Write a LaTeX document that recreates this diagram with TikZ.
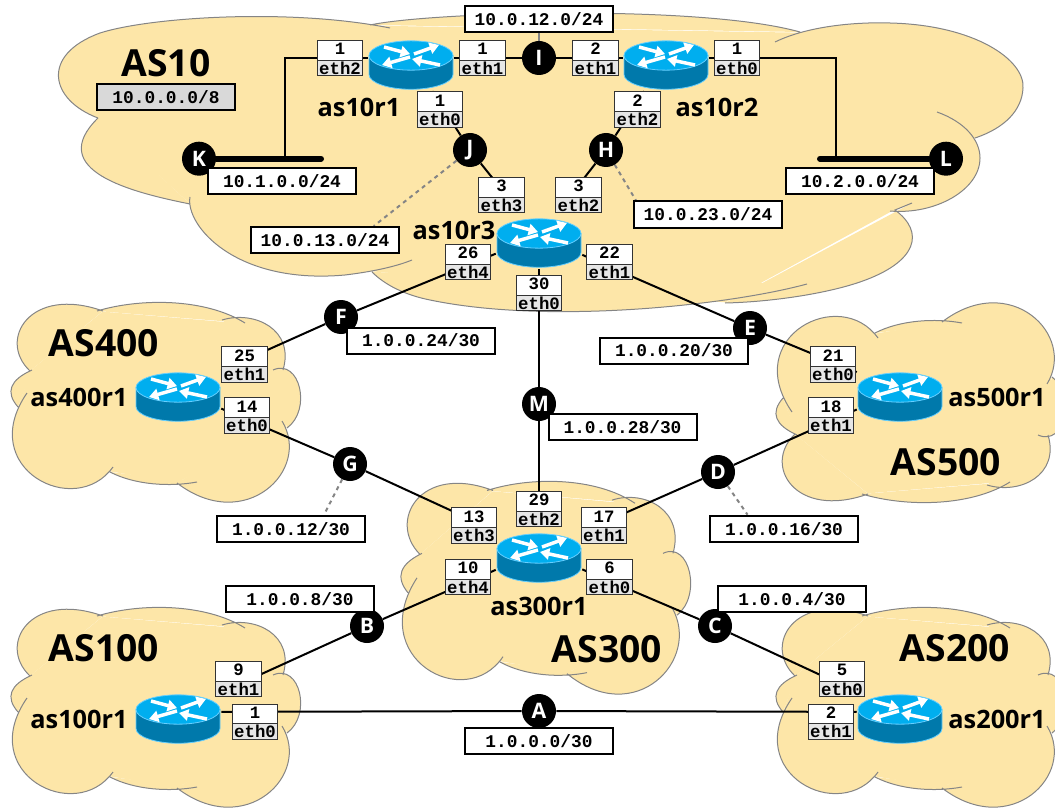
\documentclass[tikz,border=0pt]{standalone}
\usepackage{fontspec}
\setsansfont{Open Sans}
\setmonofont{Liberation Mono}
\usetikzlibrary{arrows.meta, shapes.multipart}
\definecolor{cloudsand}{HTML}{FDE6A8}
\definecolor{cloudline}{HTML}{858585}
\definecolor{routertop}{HTML}{00AEEF}
\definecolor{routerside}{HTML}{0079AB}
\definecolor{routerrim}{HTML}{66CFFF}
\definecolor{portgrey}{HTML}{E6E6E6}
\definecolor{portline}{HTML}{333333}
\pgfdeclarelayer{clouds}
\pgfdeclarelayer{links}
\pgfsetlayers{clouds,links,main}

\tikzset{
	cloudbody/.style={fill=cloudsand, draw=cloudline, line width=0.75pt},
	cloudcore/.style={fill=cloudsand, draw=cloudsand, line width=2pt, line join=round},
	routerarrow/.style={draw=white, line width=2.6pt, -{Triangle[length=7pt, width=8.5pt, fill=white]}},
	smallcloud/.pic={
		\path[cloudcore] (32,371) -- (103,313) -- (245,325) -- (281,370) -- (285,428) -- (177,481) -- (110,470) -- (20,406) -- cycle;
		\path[cloudbody]
			(30,371) .. controls (-3,340) and (30,285) .. (103,311)
			(97,311) .. controls (140,298) and (205,298) .. (245,323)
			(222,320) .. controls (255,310) and (295,330) .. (283,370)
			(273,370) .. controls (300,358) and (312,410) .. (287,428)
			(282,421) .. controls (312,470) and (245,535) .. (177,483)
			(197,482) .. controls (170,487) and (135,485) .. (110,472)
			(113,467) .. controls (75,520) and (-25,468) .. (27,393)
			(18,407) .. controls (5,392) and (10,380) .. (32,370);
	}
}

\begin{document}
\begin{tikzpicture}[x=0.75pt, y=-0.75pt,
	router/.style={rectangle, inner sep=0pt, minimum width=64.5pt, minimum height=49.5pt,
		path picture={
			\filldraw[fill=routerside, draw=routerrim, line width=0.6pt] (-42,-2.5) -- (-42,16.6) .. controls (-42,24.6) and (-23,31.3) .. (0,31.3)
				.. controls (23,31.3) and (42,24.6) .. (42,16.6) -- (42,-2.5) -- cycle;
			\filldraw[fill=routertop, draw=routerrim, line width=0.6pt] (0,-2.5) circle[x radius=31.5pt, y radius=11pt];
			\draw[routerarrow] (-27,-11) -- (-1,-4);
			\draw[routerarrow] (3,-4) -- (28,-13);
			\draw[routerarrow] (-1,-1) -- (-29,7);
			\draw[routerarrow] (29,7) -- (1,1);
		}},
	port/.style={rectangle split, rectangle split parts=2, draw=portline, line width=0.75pt,
		rectangle split part fill={white,portgrey}, minimum width=34pt, inner xsep=0pt, inner ysep=0.7pt,
		text height=9.6pt, text depth=3pt, font=\ttfamily\bfseries\fontsize{13}{13}\selectfont},
	netbox/.style={rectangle, draw, line width=1.5pt, fill=white, inner sep=0pt, minimum width=111pt, minimum height=19.5pt,
		font=\ttfamily\bfseries\fontsize{13.4}{13.4}\selectfont},
	hub/.style={circle, fill=black, text=white, inner sep=0pt, minimum size=25.5pt, font=\sffamily\bfseries\fontsize{16}{16}\selectfont},
	asname/.style={inner sep=0pt, font=\sffamily\bfseries\fontsize{28}{28}\selectfont},
	routername/.style={inner sep=0pt, font=\sffamily\bfseries\fontsize{19}{19}\selectfont},
	link/.style={line width=1.5pt},
	bus/.style={line width=4.5pt, line cap=round},
	stub/.style={draw=cloudline, line width=1.5pt}]

\useasboundingbox (0,0) rectangle (1055,809);

% Clouds
\begin{pgfonlayer}{clouds}
\path[cloudcore] (98,118) -- (372,27) -- (800,34) -- (975,136) -- (893,209) -- (725,301) -- (372,270) -- (190,202) -- cycle;
\path[cloudbody]
	(98,118) .. controls (50,100) and (40,55) .. (100,33) .. controls (150,17) and (290,8) .. (390,28)
	(370,25) .. controls (430,12) and (700,4) .. (800,32)
	(775,42) .. controls (810,25) and (860,22) .. (890,23) .. controls (975,25) and (1025,60) .. (1023,88) .. controls (1022,110) and (1005,128) .. (975,138)
	(937,112) .. controls (965,122) and (980,140) .. (980,158) .. controls (980,190) and (935,215) .. (890,211)
	(912,203) -- (895,210) .. controls (925,232) and (918,262) .. (860,282) .. controls (825,294) and (770,302) .. (725,303)
	(807,284) .. controls (730,305) and (550,325) .. (430,300) .. controls (405,295) and (385,285) .. (372,272)
	(190,197) .. controls (185,225) and (235,285) .. (345,275) .. controls (370,272) and (395,267) .. (412,260)
	(190,204) .. controls (130,192) and (45,170) .. (98,118);
\pic {smallcloud};
\pic[shift={(0,305)}] {smallcloud};
\pic[shift={(765,805)}, yscale=-1] {smallcloud};
\pic[shift={(765,305)}] {smallcloud};
\pic[shift={(390,159.3)}, yscale=1.065] {smallcloud};
\end{pgfonlayer}

% Routers
\node[router] (as10r1) at (411,58) {};
\node[router] (as10r2) at (666,58) {};
\node[router] (as10r3) at (539,236) {};
\node[router] (as400r1) at (178,390) {};
\node[router] (as500r1) at (900,390) {};
\node[router] (as300r1) at (539,551) {};
\node[router] (as100r1) at (178,712) {};
\node[router] (as200r1) at (900,712) {};

% Router and AS names
\node[asname] (nameAS10) at (166,63) {AS10};
\node[asname] (nameAS400) at (104,343) {AS400};
\node[asname] (nameAS500) at (946,462) {AS500};
\node[asname] (nameAS300) at (607,649) {AS300};
\node[asname] (nameAS100) at (104,648) {AS100};
\node[asname] (nameAS200) at (955,648) {AS200};
\node[routername] (namer1) at (359,107) {as10r1};
\node[routername] (namer2) at (717,107) {as10r2};
\node[routername] (namer3) at (454,230) {as10r3};
\node[routername] (namer400) at (79,397) {as400r1};
\node[routername] (namer500) at (997,397) {as500r1};
\node[routername] (namer300) at (539,606) {as300r1};
\node[routername] (namer100) at (79,719) {as100r1};
\node[routername] (namer200) at (997,719) {as200r1};

% Ports
\node[port] (r1eth2) at (340,58) {1\nodepart{two}eth2};
\node[port] (r1eth1) at (482.5,58) {1\nodepart{two}eth1};
\node[port] (r1eth0) at (440,109.5) {1\nodepart{two}eth0};
\node[port] (r2eth1) at (595.5,58) {2\nodepart{two}eth1};
\node[port] (r2eth0) at (737,58) {1\nodepart{two}eth0};
\node[port] (r2eth2) at (637.5,109.5) {2\nodepart{two}eth2};
\node[port] (r3eth3) at (501.5,195) {3\nodepart{two}eth3};
\node[port] (r3eth2) at (578.5,195) {3\nodepart{two}eth2};
\node[port] (r3eth4) at (468,262) {26\nodepart{two}eth4};
\node[port] (r3eth1) at (609.5,262) {22\nodepart{two}eth1};
\node[port] (r3eth0) at (539,293) {30\nodepart{two}eth0};
\node[port] (r400eth1) at (244.5,364.5) {25\nodepart{two}eth1};
\node[port] (r400eth0) at (247,415.5) {14\nodepart{two}eth0};
\node[port] (r500eth0) at (833,364.5) {21\nodepart{two}eth0};
\node[port] (r500eth1) at (831,415.5) {18\nodepart{two}eth1};
\node[port] (r300eth3) at (474,525.5) {13\nodepart{two}eth3};
\node[port] (r300eth2) at (539,509) {29\nodepart{two}eth2};
\node[port] (r300eth1) at (604,525.5) {17\nodepart{two}eth1};
\node[port] (r300eth4) at (468,577) {10\nodepart{two}eth4};
\node[port] (r300eth0) at (609.5,577) {6\nodepart{two}eth0};
\node[port] (r100eth1) at (238.5,679) {9\nodepart{two}eth1};
\node[port] (r100eth0) at (255,721.7) {1\nodepart{two}eth0};
\node[port] (r200eth0) at (842,679) {5\nodepart{two}eth0};
\node[port] (r200eth1) at (831,721.7) {2\nodepart{two}eth1};

% Hubs
\node[hub] (A) at (539,711) {A};
\node[hub] (B) at (367,626) {B};
\node[hub] (C) at (715,626) {C};
\node[hub] (D) at (718,472) {D};
\node[hub] (E) at (750,328) {E};
\node[hub] (F) at (341,317) {F};
\node[hub] (G) at (350,464) {G};
\node[hub] (H) at (606,150) {H};
\node[hub] (I) at (539,58) {I};
\node[hub] (J) at (470,150) {J};
\node[hub] (K) at (199,158.7) {K};
\node[hub] (L) at (946,158.7) {L};
\node[hub] (M) at (539,404) {M};
\coordinate (kend) at (321,158.7);
\coordinate (lend) at (820,158.7);
\coordinate (kfoot) at (285,158.7);
\coordinate (lfoot) at (836,158.7);

% Network labels
\node[netbox, fill=black!15, minimum width=103pt] (netAS10) at (166,97) {10.0.0.0/8};
\node[netbox] (net12) at (539,18.7) {10.0.12.0/24};
\node[netbox] (net1) at (282,180.7) {10.1.0.0/24};
\node[netbox] (net2) at (860,180.7) {10.2.0.0/24};
\node[netbox] (net13) at (325,240) {10.0.13.0/24};
\node[netbox] (net23) at (708,214.5) {10.0.23.0/24};
\node[netbox] (netF) at (421,340.5) {1.0.0.24/30};
\node[netbox] (netE) at (674,350.5) {1.0.0.20/30};
\node[netbox] (netM) at (622.5,427) {1.0.0.28/30};
\node[netbox] (netG) at (291,528.7) {1.0.0.12/30};
\node[netbox] (netD) at (784,528.7) {1.0.0.16/30};
\node[netbox] (netB) at (300,599) {1.0.0.8/30};
\node[netbox] (netC) at (792,599) {1.0.0.4/30};
\node[netbox] (netA) at (539,741) {1.0.0.0/30};

% Links
\begin{pgfonlayer}{links}
\draw[link] (as10r1) -- (I);
\draw[link] (I) -- (as10r2);
\draw[link] (as10r1) -- (kfoot |- as10r1) -- (kfoot);
\draw[link] (as10r2) -- (lfoot |- as10r2) -- (lfoot);
\draw[bus] (K) -- (kend);
\draw[bus] (lend) -- (L);
\draw[link] (as10r1) -- (J);
\draw[link] (J) -- (as10r3);
\draw[link] (as10r2) -- (H);
\draw[link] (H) -- (as10r3);
\draw[link] (as10r3) -- (F);
\draw[link] (F) -- (as400r1);
\draw[link] (as10r3) -- (E);
\draw[link] (E) -- (as500r1);
\draw[link] (as10r3) -- (M);
\draw[link] (M) -- (as300r1);
\draw[link] (as400r1) -- (G);
\draw[link] (G) -- (as300r1);
\draw[link] (as500r1) -- (D);
\draw[link] (D) -- (as300r1);
\draw[link] (as300r1) -- (B);
\draw[link] (B) -- (as100r1);
\draw[link] (as300r1) -- (C);
\draw[link] (C) -- (as200r1);
\draw[link] (as100r1) -- (A);
\draw[link] (A) -- (as200r1);
\draw[stub] (I) -- (net12);
\draw[stub, dashed] (J) -- (net13.16);
\draw[stub, dashed] (H) -- (net23.169);
\draw[stub, dashed] (G) -- (netG.23);
\draw[stub, dashed] (D) -- (netD.159);
\end{pgfonlayer}
\end{tikzpicture}
\end{document}
